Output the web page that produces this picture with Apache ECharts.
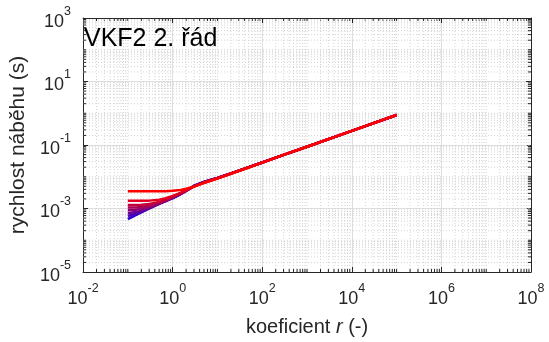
<!DOCTYPE html>
<html><head><meta charset="utf-8">
<script src="https://cdn.jsdelivr.net/npm/echarts@6/dist/echarts.min.js"></script>
<style>html,body{margin:0;padding:0;background:#fff}#c{width:549px;height:342px}</style>
</head><body><div id="c"></div>
<script>
// coefficient r values (x)
const rValues = [0.1, 0.15, 0.2, 0.3, 0.5, 0.7, 1, 1.5, 2, 3, 5, 10, 20, 50, 100, 300, 1000, 1e4, 1e5];
// rise time (s) for each curve (blue -> red)
const curve1 = [4.6e-4, 6.2e-4, 7.6e-4, 1.03e-3, 1.45e-3, 1.75e-3, 2.10e-3, 2.80e-3, 3.60e-3, 5.20e-3, 6.90e-3, 9.2e-3, 0.0128, 0.0200, 0.0282, 0.0490, 0.088, 0.278, 0.88];
const curve2 = [5.8e-4, 6.8e-4, 7.8e-4, 1.00e-3, 1.40e-3, 1.72e-3, 2.15e-3, 2.85e-3, 3.60e-3, 5.15e-3, 6.85e-3, 9.2e-3, 0.0128, 0.0200, 0.0282, 0.0490, 0.088, 0.278, 0.88];
const curve3 = [7.1e-4, 7.7e-4, 8.5e-4, 1.03e-3, 1.40e-3, 1.72e-3, 2.20e-3, 2.90e-3, 3.60e-3, 5.10e-3, 6.80e-3, 9.15e-3, 0.0127, 0.0199, 0.0281, 0.0490, 0.088, 0.278, 0.88];
const curve4 = [8.8e-4, 9.1e-4, 9.6e-4, 1.10e-3, 1.45e-3, 1.75e-3, 2.25e-3, 2.95e-3, 3.65e-3, 5.05e-3, 6.75e-3, 9.1e-3, 0.0127, 0.0199, 0.0281, 0.0490, 0.088, 0.278, 0.88];
const curve5 = [1.07e-3, 1.08e-3, 1.11e-3, 1.22e-3, 1.52e-3, 1.82e-3, 2.30e-3, 3.00e-3, 3.65e-3, 5.00e-3, 6.70e-3, 9.05e-3, 0.0127, 0.0198, 0.0280, 0.0489, 0.088, 0.278, 0.88];
const curve6 = [1.30e-3, 1.30e-3, 1.31e-3, 1.38e-3, 1.62e-3, 1.90e-3, 2.40e-3, 3.05e-3, 3.70e-3, 4.95e-3, 6.60e-3, 9.0e-3, 0.0126, 0.0198, 0.0280, 0.0489, 0.088, 0.278, 0.88];
const curve7 = [1.75e-3, 1.75e-3, 1.75e-3, 1.77e-3, 1.90e-3, 2.10e-3, 2.50e-3, 3.10e-3, 3.70e-3, 4.90e-3, 6.50e-3, 8.9e-3, 0.0125, 0.0197, 0.0279, 0.0488, 0.088, 0.278, 0.88];
const curve8 = [3.50e-3, 3.50e-3, 3.50e-3, 3.50e-3, 3.50e-3, 3.52e-3, 3.60e-3, 3.85e-3, 4.20e-3, 4.90e-3, 6.30e-3, 8.7e-3, 0.0124, 0.0196, 0.0278, 0.0487, 0.088, 0.278, 0.88];
const curves = [curve1, curve2, curve3, curve4, curve5, curve6, curve7, curve8];
const curveColors = ['#2a00d5', '#4a00b5', '#6a0095', '#8a0075', '#a80057', '#c4003b', '#e0001f', '#ff0000'];
// axis extents as decade exponents, labelled ticks every 2 decades
const xMinExp = -2, xMaxExp = 8, yMinExp = -5, yMaxExp = 3, tickStep = 2;
const minorMultipliers = [2, 3, 4, 5, 6, 7, 8, 9];
const titleText = 'VKF2 2. řád';

function minorPositions(lo, hi) {
  const out = [];
  for (let d = lo; d < hi; d++) {
    if ((d - lo) % tickStep !== 0) out.push(d);
    minorMultipliers.forEach(k => out.push(d + Math.log10(k)));
  }
  return out;
}
const xMinor = minorPositions(xMinExp, xMaxExp);
const yMinor = minorPositions(yMinExp, yMaxExp);

const axisColor = '#262626';
const minorGridColor = '#d4d4d4';
const font = '"Liberation Sans", Arial, Helvetica, sans-serif';
const richTick = {
  b: {fontSize: 18, fontFamily: font, color: axisColor, lineHeight: 26, verticalAlign: 'bottom'},
  s: {fontSize: 12.5, fontFamily: font, color: axisColor, lineHeight: 14, verticalAlign: 'top'}
};
const tickFmt = v => '{b|10}{s|' + v + '}';

function baseAxis(extra) {
  return Object.assign({
    type: 'value',
    axisLine: {show: true, onZero: false, lineStyle: {color: axisColor, width: 1}},
    axisTick: {show: true, inside: true, length: 5, lineStyle: {color: axisColor}},
    splitLine: {show: false},
    axisLabel: {show: false}
  }, extra);
}

const chart = echarts.init(document.getElementById('c'), null, {renderer: 'canvas'});

const seriesList = [];
// minor grid + minor ticks along x
seriesList.push({
  type: 'custom', xAxisIndex: 0, yAxisIndex: 0, silent: true, z: 1,
  data: xMinor.map(v => [v, yMinExp]),
  renderItem: function (params, api) {
    const x = api.value(0);
    const b = api.coord([x, yMinExp]);
    const t = api.coord([x, yMaxExp]);
    return {type: 'group', children: [
      {type: 'line', shape: {x1: b[0], y1: b[1], x2: t[0], y2: t[1]}, style: {stroke: minorGridColor, lineWidth: 1, lineDash: [1, 2]}},
      {type: 'line', shape: {x1: b[0], y1: b[1], x2: b[0], y2: b[1] - 3}, style: {stroke: axisColor, lineWidth: 1}},
      {type: 'line', shape: {x1: t[0], y1: t[1], x2: t[0], y2: t[1] + 3}, style: {stroke: axisColor, lineWidth: 1}}
    ]};
  }
});
// minor grid + minor ticks along y
seriesList.push({
  type: 'custom', xAxisIndex: 0, yAxisIndex: 0, silent: true, z: 1,
  data: yMinor.map(v => [xMinExp, v]),
  renderItem: function (params, api) {
    const y = api.value(1);
    const l = api.coord([xMinExp, y]);
    const r = api.coord([xMaxExp, y]);
    return {type: 'group', children: [
      {type: 'line', shape: {x1: l[0], y1: l[1], x2: r[0], y2: r[1]}, style: {stroke: minorGridColor, lineWidth: 1, lineDash: [1, 2]}},
      {type: 'line', shape: {x1: l[0], y1: l[1], x2: l[0] + 3, y2: l[1]}, style: {stroke: axisColor, lineWidth: 1}},
      {type: 'line', shape: {x1: r[0], y1: r[1], x2: r[0] - 3, y2: r[1]}, style: {stroke: axisColor, lineWidth: 1}}
    ]};
  }
});
curves.forEach((c, i) => {
  seriesList.push({
    type: 'line', xAxisIndex: 0, yAxisIndex: 0, z: 3 + i,
    showSymbol: false, symbol: 'none', smooth: false, silent: true,
    data: rValues.map((r, j) => [Math.log10(r), Math.log10(c[j])]),
    lineStyle: {color: curveColors[i], width: 2.5},
    itemStyle: {color: curveColors[i]}
  });
});

chart.setOption({
  animation: false,
  backgroundColor: '#fff',
  grid: {left: 81, right: 18, top: 18, bottom: 69, containLabel: false},
  xAxis: [
    baseAxis({
      position: 'bottom', min: xMinExp, max: xMaxExp, interval: tickStep,
      axisLabel: {show: true, formatter: tickFmt, rich: richTick, margin: 10},
      splitLine: {show: true, lineStyle: {color: '#dedede', width: 1}},
      name: 'koeficient {i|r} (-)', nameLocation: 'middle', nameGap: 45,
      nameTextStyle: {fontSize: 20, fontFamily: font, color: axisColor,
        rich: {i: {fontSize: 20, fontFamily: font, color: axisColor, fontStyle: 'italic'}}}
    }),
    baseAxis({position: 'top', min: xMinExp, max: xMaxExp, interval: tickStep})
  ],
  yAxis: [
    baseAxis({
      position: 'left', min: yMinExp, max: yMaxExp, interval: tickStep,
      axisLabel: {show: true, formatter: tickFmt, rich: richTick, margin: 12},
      splitLine: {show: true, lineStyle: {color: '#dedede', width: 1}},
      name: 'rychlost náběhu (s)', nameLocation: 'middle', nameGap: 47,
      nameTextStyle: {fontSize: 21, fontFamily: font, color: axisColor}
    }),
    baseAxis({position: 'right', min: yMinExp, max: yMaxExp, interval: tickStep})
  ],
  graphic: [{
    type: 'text', left: 84, top: 27, z: 100,
    style: {text: titleText, font: '25px ' + font, fill: '#000'}
  }],
  series: seriesList
});
</script></body></html>
